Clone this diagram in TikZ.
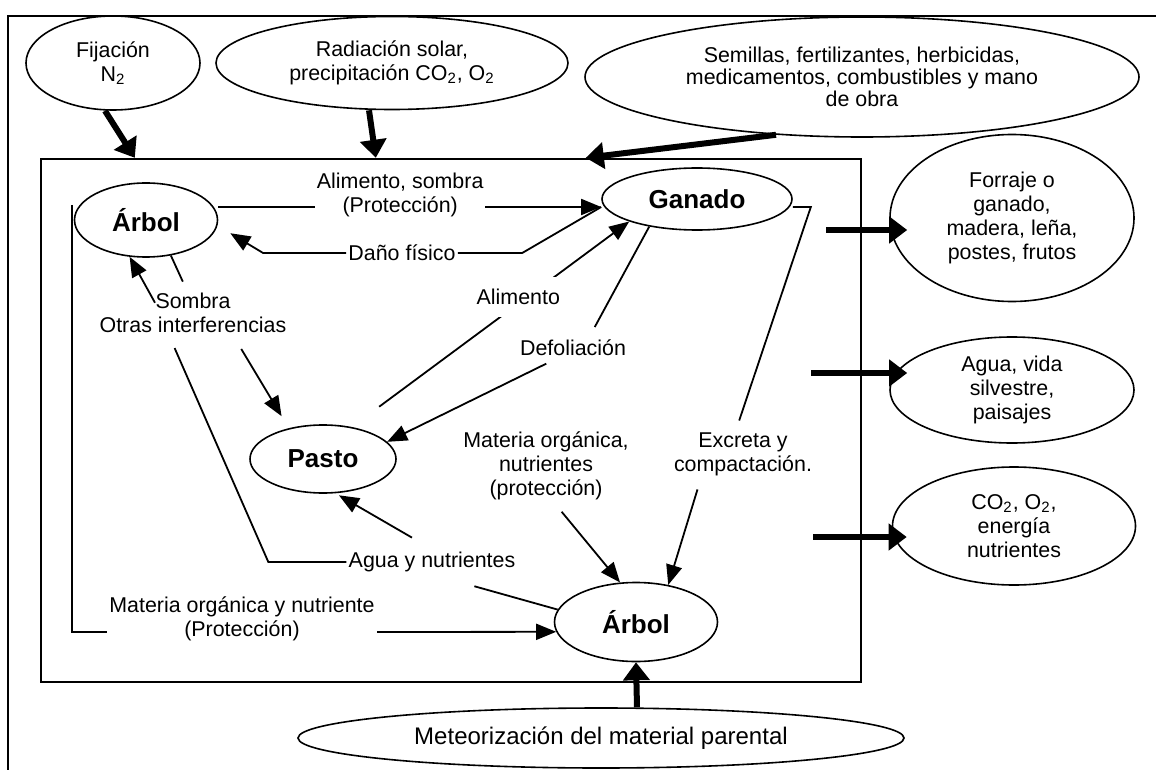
\documentclass[tikz,border=0pt]{standalone}
\usepackage{fontspec}
\setmainfont{Liberation Sans}
\usetikzlibrary{shapes.geometric,arrows.meta}
\tikzset{
elipse/.style={ellipse, draw, line width=0.8pt, inner sep=0pt, align=center, font=\fontsize{10.7}{12}\selectfont},
principal/.style={elipse, font=\bfseries\fontsize{13}{15}\selectfont},
etiq/.style={align=center, inner sep=1pt, font=\fontsize{10.7}{12}\selectfont},
linea/.style={line width=0.9pt},
flecha/.style={line width=0.9pt, -{Triangle[length=10pt,width=8pt]}},
gruesa/.style={line width=3pt, -{Triangle[length=9pt,width=13pt]}}
}

\begin{document}
\begin{tikzpicture}[x=0.5pt,y=-0.5pt]
\useasboundingbox (0,0) rectangle (1156,770);
\draw[line width=1pt] (8,770) -- (8,16) -- (1156,16);
\node[draw, line width=1.2pt, minimum width=410pt, minimum height=261.5pt, inner sep=0pt] (finca) at (451,420.5) {};

\node[elipse, minimum width=87pt, minimum height=47pt] (fij) at (113,63) {Fijación\\N\textsubscript{2}}; \node[elipse, minimum width=176pt, minimum height=46.5pt] (rad) at (392,63) {Radiación solar,\\precipitación CO\textsubscript{2}, O\textsubscript{2}}; \node[elipse, minimum width=277pt, minimum height=60pt, font=\fontsize{10.7}{11}\selectfont] (sem) at (862,77) {Semillas, fertilizantes, herbicidas,\\medicamentos, combustibles y mano\\de obra};
\node[principal, minimum width=71.5pt, minimum height=37pt] (arbolA) at (146,220) {Árbol}; \node[principal, minimum width=95pt, minimum height=31pt] (ganado) at (697,199) {Ganado}; \node[principal, minimum width=73pt, minimum height=34pt] (pasto) at (323,459) {Pasto}; \node[principal, minimum width=81.5pt, minimum height=39.5pt] (arbolB) at (636,622) {Árbol};
\node[elipse, minimum width=122pt, minimum height=83.5pt] (forraje) at (1012,218) {Forraje o\\ganado,\\madera, leña,\\postes, frutos}; \node[elipse, minimum width=122pt, minimum height=53pt] (aguaVida) at (1012,390) {Agua, vida\\silvestre,\\paisajes}; \node[elipse, minimum width=121.5pt, minimum height=59pt] (co2) at (1014,526) {CO\textsubscript{2}, O\textsubscript{2},\\energía\\nutrientes};
\node[elipse, minimum width=303pt, minimum height=30pt, font=\fontsize{12}{14}\selectfont] (meteo) at (601,738) {Meteorización del material parental};

\node[etiq] (lblDano) at (402,253) {Daño físico}; \node[etiq] (lblSombra) at (193,313) {Sombra\\Otras interferencias}; \node[etiq] (lblDef) at (573,348) {Defoliación}; \node[etiq] (lblMOn) at (546,466) {Materia orgánica,\\nutrientes\\(protección)};
\node[etiq] (lblExc) at (743,454) {Excreta y\\compactación.}; \node[etiq] (lblAgua) at (432,562) {Agua y nutrientes}; \node[etiq] (lblMOy) at (242,619) {Materia orgánica y nutriente\\(Protección)};

\draw[flecha] ([yshift=6.5pt]arbolA.east) -- node[etiq, fill=white, pos=0.475, yshift=6pt] (lblAS) {Alimento, sombra\\(Protección)} ([yshift=-4pt]ganado.west);
\draw[linea] ([yshift=-4pt]ganado.west) -- ++(-79,46) -- (lblDano.east);
\draw[flecha, shorten >=7pt] (lblDano.west) -- ++(-83,0) -- ([yshift=-3pt]arbolA.east);
\draw[flecha, shorten <=17pt] (pasto.48) -- node[etiq, fill=white, inner sep=6pt, pos=0.6, yshift=3.5pt] (lblAlim) {Alimento} (ganado.south west);
\draw[linea, shorten >=6pt] (ganado.210) -- ([xshift=8pt]lblDef.north);
\draw[flecha, shorten <=6pt] ([xshift=-8pt]lblDef.south) -- (pasto.15);
\draw[flecha] ([xshift=-19pt,yshift=-6pt]lblSombra.north) -- (arbolA.246);
\draw[linea, shorten >=5pt] (arbolA.305) -- ([xshift=-3pt]lblSombra.north);
\draw[flecha, shorten <=8pt, shorten >=7pt] ([xshift=20pt]lblSombra.south) -- (pasto.138);
\draw[linea, shorten <=7pt] ([xshift=-12pt]lblSombra.south) -- ([xshift=-39pt]lblAgua.west) -- (lblAgua.west);
\draw[linea, shorten >=22pt] (arbolB.171) -- (lblAgua.south);
\draw[flecha, shorten >=2pt] ([xshift=-10pt,yshift=6pt]lblAgua.north) -- (pasto.-70);
\draw[flecha, shorten <=6pt] ([xshift=4pt]lblMOn.south) -- (arbolB.112);
\draw[linea, shorten >=5pt] ([yshift=-4pt]ganado.east) -- ++(18,0) -- ([xshift=-3.5pt]lblExc.north);
\draw[flecha, shorten <=6pt] ([xshift=-21pt]lblExc.south) -- (arbolB.49);
\draw[linea] ([xshift=-1pt,yshift=7.5pt]arbolA.west) |- ([yshift=-6.5pt]lblMOy.west);
\draw[flecha] ([yshift=-6.5pt]lblMOy.east) -- (arbolB.187);

\draw[gruesa] ([xshift=-4pt]fij.south) -- ([xshift=47.5pt]finca.north west);
\draw[gruesa] ([xshift=-11.5pt]rad.south) -- ([xshift=168pt]finca.north west);
\draw[gruesa] ([xshift=-43pt,yshift=1.5pt]sem.south) -- ([xshift=273pt]finca.north west);
\coordinate (sal1) at (826,230); \coordinate (sal2) at (811,373); \coordinate (sal3) at (813,537);
\draw[gruesa] (sal1) -- ([xshift=9pt,yshift=-6pt]forraje.west);
\draw[gruesa] (sal2) -- ([xshift=9pt,yshift=8.5pt]aguaVida.west);
\draw[gruesa] (sal3) -- ([xshift=7.5pt,yshift=-5.5pt]co2.west);
\draw[gruesa] ([xshift=18pt]meteo.north) -- (arbolB.south);
\end{tikzpicture}
\end{document}
